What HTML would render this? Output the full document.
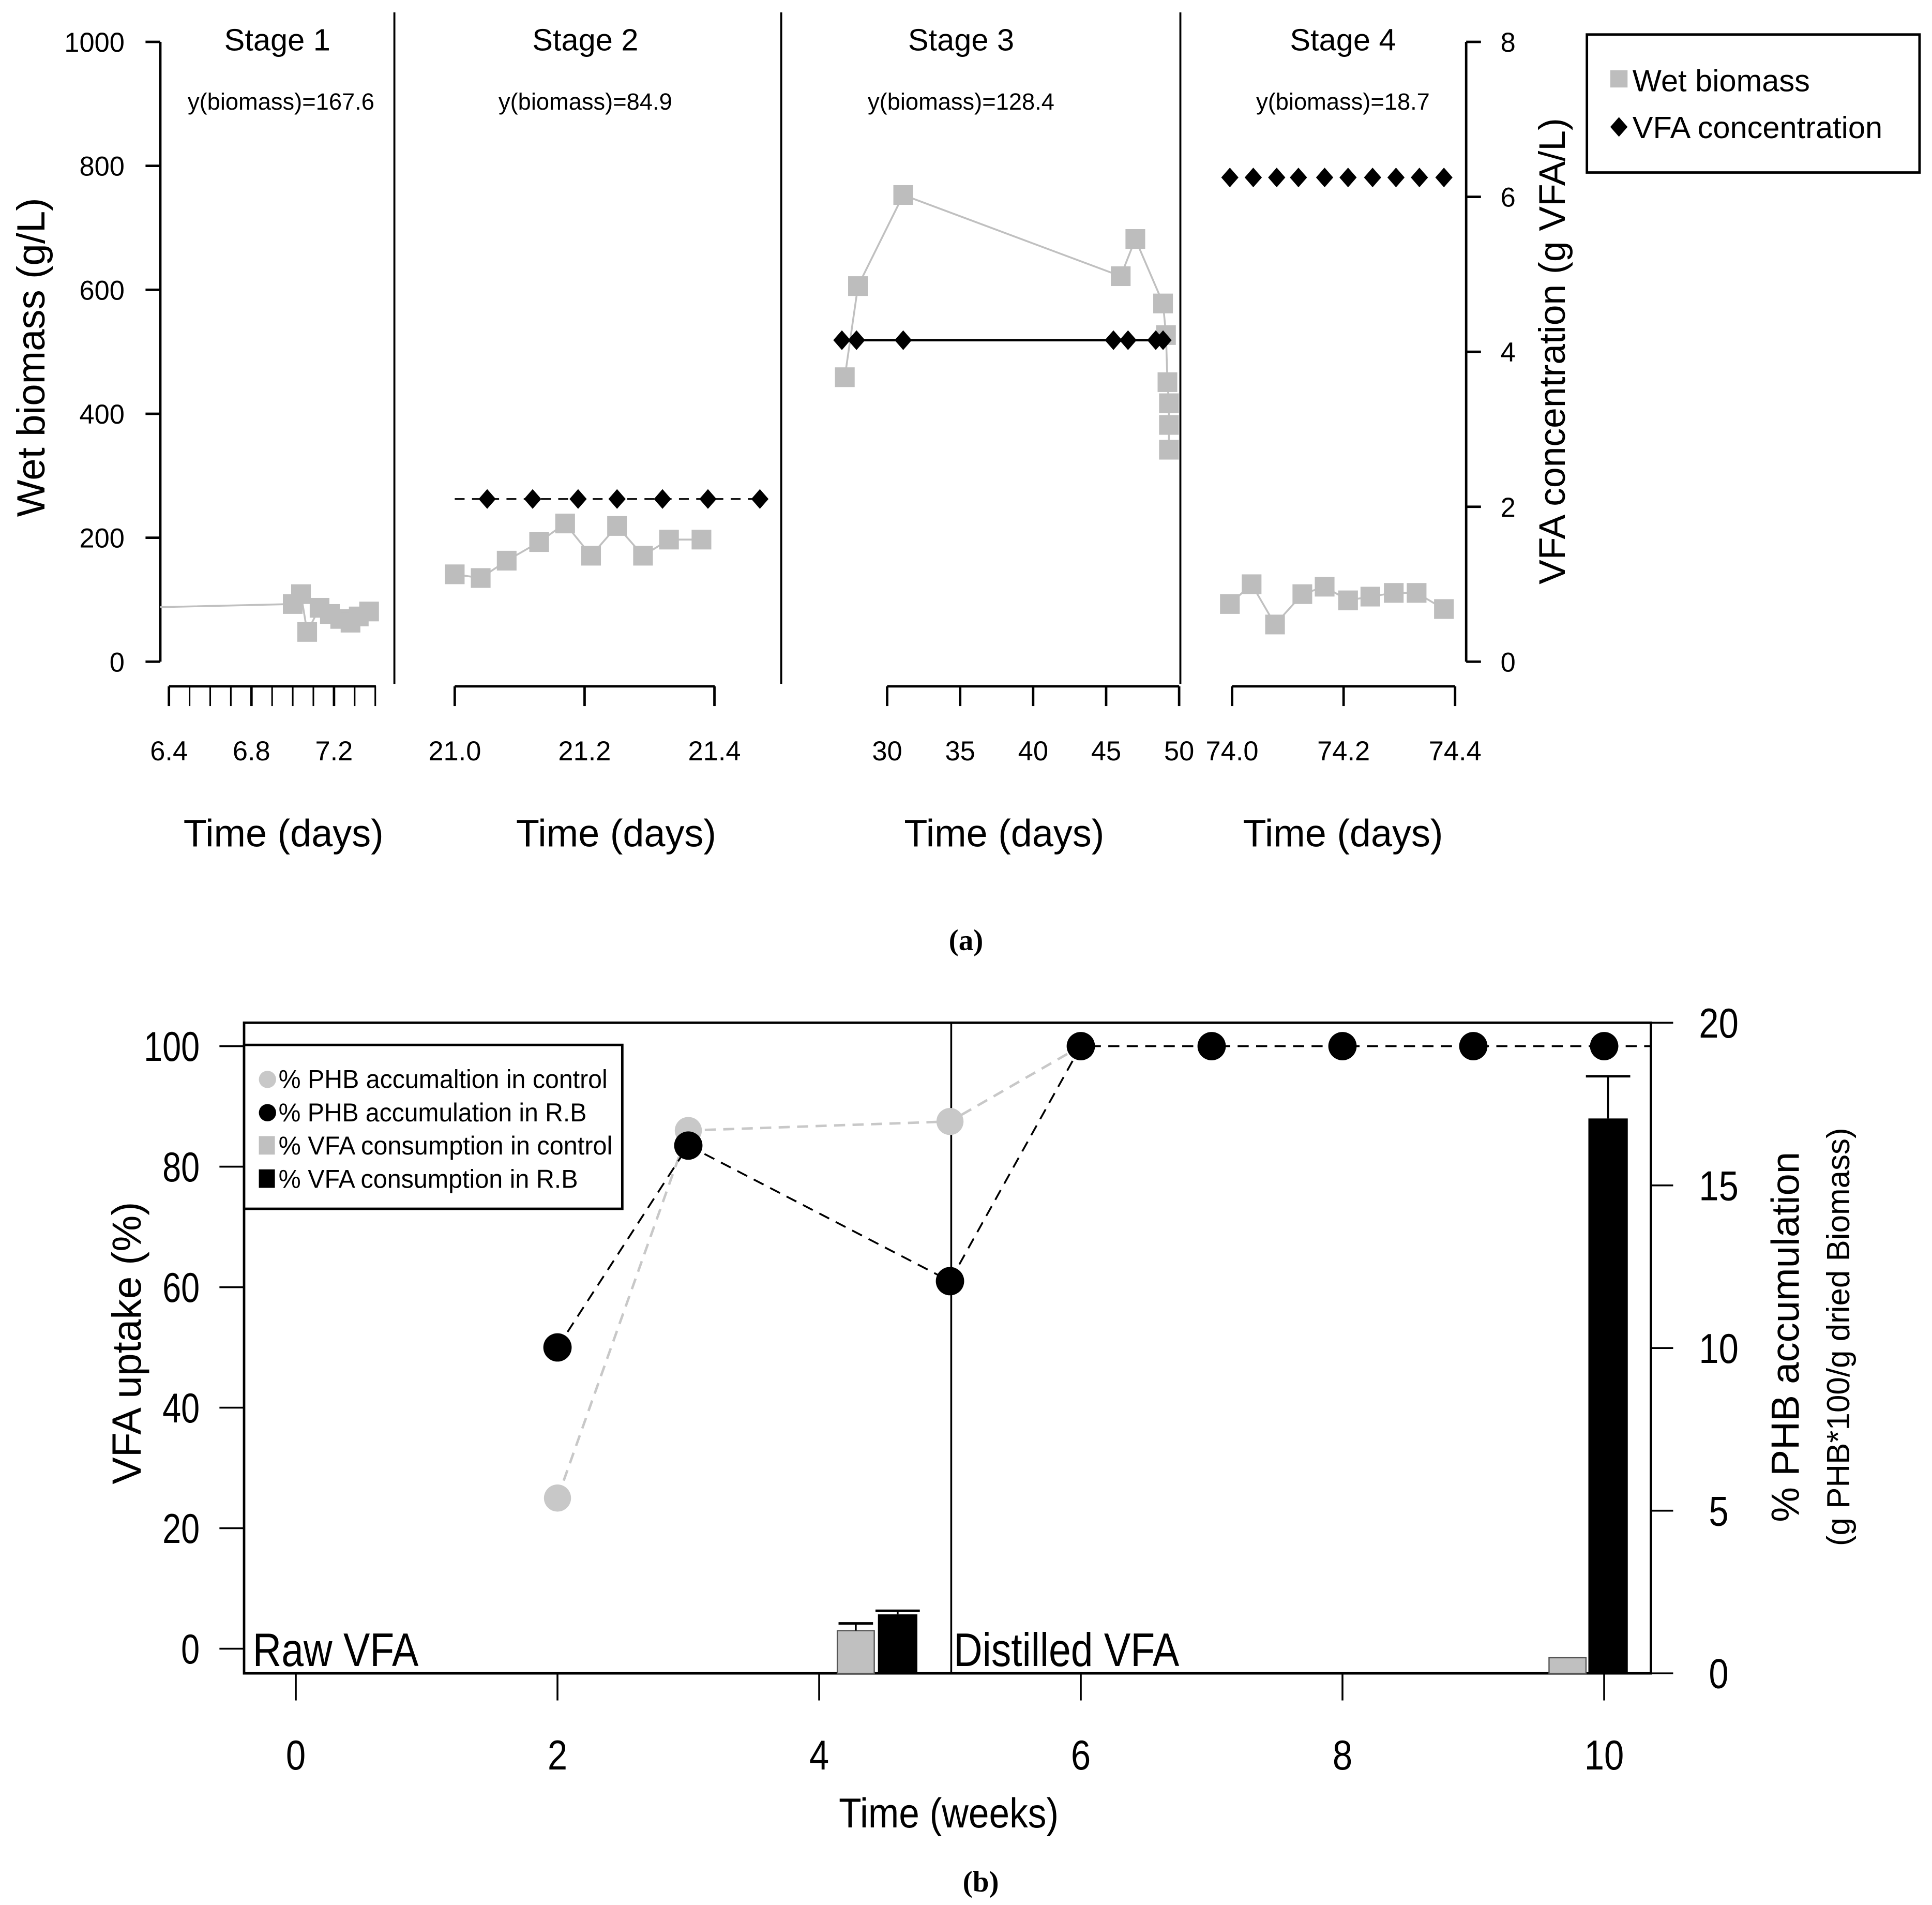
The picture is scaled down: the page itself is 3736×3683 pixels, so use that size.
<!DOCTYPE html>
<html><head><meta charset="utf-8"><style>
html,body{margin:0;padding:0;background:#fff}
svg{display:block}
text{font-family:"Liberation Sans",sans-serif;fill:#000}
</style></head><body>
<svg id="c" width="3736" height="3683" viewBox="0 0 1568 1546">
<rect width="1568" height="1546" fill="#fff"/>
<g id="a"></g>
<g id="b"></g>
</svg>
<script>
// ---- Panel (a) data ----
const s1Time=[7.0,7.04,7.07,7.13,7.18,7.23,7.28,7.32,7.37];
const s1Bio=[93,109,48,87,77,69,63,73,81];
const s2Time=[21.0,21.04,21.08,21.13,21.17,21.21,21.25,21.29,21.33,21.38];
const s2Bio=[141,135,163,193,223,171,219,171,197,197];
const s2VfaTime=[21.05,21.12,21.19,21.25,21.32,21.39,21.47];
const s2Vfa=[2.1,2.1,2.1,2.1,2.1,2.1,2.1];
const s3Time=[27.1,28.0,31.1,46.0,47.0,48.9,49.1,49.2,49.3,49.3,49.3];
const s3Bio=[459,606,753,622,682,578,527,451,417,382,342];
const s3VfaTime=[26.9,27.9,31.1,45.5,46.5,48.4,48.9];
const s3Vfa=[4.15,4.15,4.15,4.15,4.15,4.15,4.15];
const s4Time=[73.996,74.035,74.077,74.126,74.166,74.208,74.248,74.29,74.331,74.38];
const s4Bio=[93,125,60,109,121,99,105,111,111,85];
const s4VfaTime=[73.996,74.038,74.08,74.119,74.166,74.208,74.252,74.294,74.336,74.38];
const s4Vfa=[6.25,6.25,6.25,6.25,6.25,6.25,6.25,6.25,6.25,6.25];
const stageNames=["Stage 1","Stage 2","Stage 3","Stage 4"];
const yields=["y(biomass)=167.6","y(biomass)=84.9","y(biomass)=128.4","y(biomass)=18.7"];
const bioTicks=[0,200,400,600,800,1000];
const vfaTicks=[0,2,4,6,8];
// ---- Panel (b) data ----
const ctrlWeeks=[2,3,5,6];
const ctrlPHB=[25,86,87.5,100];
const rbWeeks=[2,3,5,6,7,8,9,10];
const rbPHB=[50,83.5,61,100,100,100,100,100];
const barWeeks=[4.28,9.72];
const ctrlVFA=[3,-1.5];
const ctrlErr=[4.2,-1.5];
const rbBarWeeks=[4.6,10.03];
const rbVFA=[5.7,88];
const rbErr=[6.3,95];
const leftTicks=[0,20,40,60,80,100];
const rightTicks=[0,5,10,15,20];
const weekTicks=[0,2,4,6,8,10];

const NS="http://www.w3.org/2000/svg";
function mk(p,tag,at,txt){const e=document.createElementNS(NS,tag);for(const k in at)e.setAttribute(k,at[k]);if(txt!==undefined)e.textContent=txt;p.appendChild(e);return e;}
const A=document.getElementById('a'),B=document.getElementById('b');
const yBio=v=>537-v*0.503, yVfa=v=>537-v*62.875;
// axes a
let e=mk(A,'line',{x1:130,y1:34,x2:130,y2:537,stroke:'#000','stroke-width':2});

bioTicks.forEach(t=>{mk(A,'line',{x1:118,x2:130,y1:yBio(t),y2:yBio(t),stroke:'#000','stroke-width':2});
 e=mk(A,'text',{x:101,y:yBio(t)+8,'text-anchor':'end','font-size':22},t);});
e=mk(A,'text',{x:36,y:290,'font-size':32,'text-anchor':'middle',transform:'rotate(-90 36 290)'},'Wet biomass (g/L)');

mk(A,'line',{x1:1190,y1:34,x2:1190,y2:537,stroke:'#000','stroke-width':2});
vfaTicks.forEach(t=>{mk(A,'line',{x1:1190,x2:1202,y1:yVfa(t),y2:yVfa(t),stroke:'#000','stroke-width':2});
 e=mk(A,'text',{x:1224,y:yVfa(t)+8,'text-anchor':'middle','font-size':22},t);});
e=mk(A,'text',{x:1270,y:285,'font-size':30,'text-anchor':'middle',transform:'rotate(-90 1270 285)'},'VFA concentration (g VFA/L)');

[320,634,958].forEach(x=>mk(A,'line',{x1:x,x2:x,y1:10,y2:555,stroke:'#000','stroke-width':1.6}));
const stages=[
 {x0:137,t0:6.4,k:167.5,ticks:[6.4,6.5,6.6,6.7,6.8,6.9,7.0,7.1,7.2,7.3,7.4],labels:[6.4,6.8,7.2],fmt:1,ax:[137,305],cx:225,tx:230,T:s1Time,Bv:s1Bio,VT:[],V:[]},
 {x0:369,t0:21.0,k:527,ticks:[21.0,21.2,21.4],labels:[21.0,21.2,21.4],fmt:1,ax:[369,580],cx:475,tx:500,T:s2Time,Bv:s2Bio,VT:s2VfaTime,V:s2Vfa},
 {x0:720,t0:30,k:11.85,ticks:[30,35,40,45,50],labels:[30,35,40,45,50],fmt:0,ax:[720,957],cx:780,tx:815,T:s3Time,Bv:s3Bio,VT:s3VfaTime,V:s3Vfa},
 {x0:1000,t0:74.0,k:452.5,ticks:[74.0,74.2,74.4],labels:[74.0,74.2,74.4],fmt:1,ax:[1000,1181],cx:1090,tx:1090,T:s4Time,Bv:s4Bio,VT:s4VfaTime,V:s4Vfa}];
stages.forEach((s,i)=>{
 const X=t=>s.x0+(t-s.t0)*s.k;
 const g=mk(A,'g',{});
 mk(g,'line',{x1:s.ax[0],x2:s.ax[1],y1:557,y2:557,stroke:'#000','stroke-width':2});
 s.ticks.forEach(t=>mk(g,'line',{x1:X(t),x2:X(t),y1:557,y2:573,stroke:'#000','stroke-width':(s.labels.includes(t)?2:1.3)}));
 s.labels.forEach(t=>{e=mk(g,'text',{x:X(t),y:617,'text-anchor':'middle','font-size':22},t.toFixed(s.fmt));});
 e=mk(g,'text',{x:s.tx,y:687,'text-anchor':'middle','font-size':31},'Time (days)');
 e=mk(g,'text',{x:s.cx,y:41,'text-anchor':'middle','font-size':25},stageNames[i]);
 e=mk(g,'text',{x:s.cx+(i==0?3:0),y:89,'text-anchor':'middle','font-size':19},yields[i]);
 let pts=s.T.map((t,j)=>X(t)+','+yBio(s.Bv[j]));
 if(i==0) pts.unshift('130,'+yBio(88));
 mk(g,'polyline',{points:pts.join(' '),fill:'none',stroke:'#c0c0c0','stroke-width':1.5});
 s.T.forEach((t,j)=>{e=mk(g,'rect',{x:X(t)-8,y:yBio(s.Bv[j])-8,width:16,height:16,fill:'#bdbdbd'});});
 if(s.VT.length){
  if(i==1) mk(g,'line',{x1:369,x2:X(s.VT[s.VT.length-1]),y1:yVfa(s.V[0]),y2:yVfa(s.V[0]),stroke:'#000','stroke-width':1.3,'stroke-dasharray':'8,6'});
  if(i==2) mk(g,'polyline',{points:s.VT.map((t,j)=>X(t)+','+yVfa(s.V[j])).join(' '),fill:'none',stroke:'#000','stroke-width':2});
  s.VT.forEach((t,j)=>{const x=X(t),y=yVfa(s.V[j]);e=mk(g,'polygon',{points:`${x},${y-8} ${x+7},${y} ${x},${y+8} ${x-7},${y}`,fill:'#000'});});
 }
});
// legend a
const la=mk(A,'g',{});
mk(la,'rect',{x:1288,y:28,width:270,height:112,fill:'#fff',stroke:'#000','stroke-width':2});
mk(la,'rect',{x:1307,y:57,width:14,height:14,fill:'#bdbdbd'});
mk(la,'text',{x:1325,y:74,'font-size':25},'Wet biomass');
mk(la,'polygon',{points:'1314,95 1321,103 1314,111 1307,103',fill:'#000'});
mk(la,'text',{x:1325,y:112,'font-size':25},'VFA concentration');
e=mk(A,'text',{x:784,y:771,'text-anchor':'middle','font-size':24,'font-weight':'bold'},'(a)');e.style.fontFamily='"Liberation Serif",serif';


// ---- Panel (b) ----
const xw=w=>240+w*106.2, yl=v=>1338-v*4.89, yr=v=>1358-v*26.4;
e=mk(B,'rect',{x:198,y:830,width:1142,height:528,fill:'none',stroke:'#000','stroke-width':2});
mk(B,'line',{x1:772,x2:772,y1:830,y2:1358,stroke:'#000','stroke-width':1.5});
leftTicks.forEach(t=>{mk(B,'line',{x1:178,x2:198,y1:yl(t),y2:yl(t),stroke:'#000','stroke-width':1.5});
 e=mk(B,'text',{x:162,y:yl(t)+12,'text-anchor':'end','font-size':34,transform:`translate(162 0) scale(0.8 1) translate(-162 0)`},t);});
rightTicks.forEach(t=>{mk(B,'line',{x1:1340,x2:1358,y1:yr(t),y2:yr(t),stroke:'#000','stroke-width':1.5});
 e=mk(B,'text',{x:1395,y:yr(t)+12,'text-anchor':'middle','font-size':34,transform:`translate(1395 0) scale(0.85 1) translate(-1395 0)`},t);});
weekTicks.forEach(t=>{mk(B,'line',{x1:xw(t),x2:xw(t),y1:1358,y2:1380,stroke:'#000','stroke-width':1.5});
 e=mk(B,'text',{x:xw(t),y:1436,'text-anchor':'middle','font-size':34,transform:`translate(${xw(t)} 0) scale(0.85 1) translate(${-xw(t)} 0)`},t);});
e=mk(B,'text',{x:770,y:1483,'text-anchor':'middle','font-size':34,transform:'translate(770 0) scale(0.88 1) translate(-770 0)'},'Time (weeks)');
e=mk(B,'text',{x:114,y:1090,'text-anchor':'middle','font-size':33,transform:'rotate(-90 114 1090)'},'VFA uptake (%)');
e=mk(B,'text',{x:1460,y:1085,'text-anchor':'middle','font-size':32,transform:'rotate(-90 1460 1085)'},'% PHB accumulation');
mk(B,'text',{x:1501,y:1085,'text-anchor':'middle','font-size':26,transform:'rotate(-90 1501 1085)'},'(g PHB*100/g dried Biomass)');
mk(B,'text',{x:205,y:1352,'font-size':38,transform:'translate(205 0) scale(0.85 1) translate(-205 0)'},'Raw VFA');
mk(B,'text',{x:774,y:1352,'font-size':38,transform:'translate(774 0) scale(0.85 1) translate(-774 0)'},'Distilled VFA');
// bars
const bw=30;
barWeeks.forEach((w,j)=>{const x=xw(w);e=mk(B,'rect',{x:x-bw/2,y:yl(ctrlVFA[j]),width:bw,height:1358-yl(ctrlVFA[j]),fill:'#c0c0c0',stroke:'#555','stroke-width':1});
 if(ctrlErr[j]>ctrlVFA[j]){mk(B,'line',{x1:x,x2:x,y1:yl(ctrlVFA[j]),y2:yl(ctrlErr[j]),stroke:'#000','stroke-width':1.5});mk(B,'line',{x1:x-14,x2:x+14,y1:yl(ctrlErr[j]),y2:yl(ctrlErr[j]),stroke:'#000','stroke-width':2});}});
rbBarWeeks.forEach((w,j)=>{const x=xw(w);e=mk(B,'rect',{x:x-16,y:yl(rbVFA[j]),width:32,height:1358-yl(rbVFA[j]),fill:'#000'});
 mk(B,'line',{x1:x,x2:x,y1:yl(rbVFA[j]),y2:yl(rbErr[j]),stroke:'#000','stroke-width':1.5});mk(B,'line',{x1:x-18,x2:x+18,y1:yl(rbErr[j]),y2:yl(rbErr[j]),stroke:'#000','stroke-width':2});});
// lines
mk(B,'polyline',{points:ctrlWeeks.map((w,j)=>xw(w)+','+yl(ctrlPHB[j])).join(' '),fill:'none',stroke:'#c8c8c8','stroke-width':2,'stroke-dasharray':'9,6'});
mk(B,'polyline',{points:rbWeeks.map((w,j)=>xw(w)+','+yl(rbPHB[j])).join(' ')+' 1340,'+yl(100),fill:'none',stroke:'#000','stroke-width':1.5,'stroke-dasharray':'9,6'});
ctrlWeeks.forEach((w,j)=>{e=mk(B,'circle',{cx:xw(w),cy:yl(ctrlPHB[j]),r:11,fill:'#c8c8c8'});});
rbWeeks.forEach((w,j)=>{e=mk(B,'circle',{cx:xw(w),cy:yl(rbPHB[j]),r:11.5,fill:'#000'});});
// legend b
const lb=mk(B,'g',{});
mk(lb,'rect',{x:198,y:848,width:307,height:133,fill:'#fff',stroke:'#000','stroke-width':2});
const lt=['% PHB accumaltion in control','% PHB accumulation in R.B','% VFA consumption in control','% VFA consumption in R.B'];
const lw=[267,250,271,243];
lt.forEach((t,i)=>{const y=883+i*27;
 if(i<2) mk(lb,'circle',{cx:217,cy:y-7,r:7,fill:i?'#000':'#c8c8c8'}); else mk(lb,'rect',{x:210,y:y-15,width:13,height:15,fill:i==2?'#c0c0c0':'#000'});
 mk(lb,'text',{x:226,y:y,'font-size':21,textLength:lw[i],lengthAdjust:'spacingAndGlyphs'},t);});
e=mk(B,'text',{x:796,y:1535,'text-anchor':'middle','font-size':24,'font-weight':'bold'},'(b)');e.style.fontFamily='"Liberation Serif",serif';

</script>
</body></html>
